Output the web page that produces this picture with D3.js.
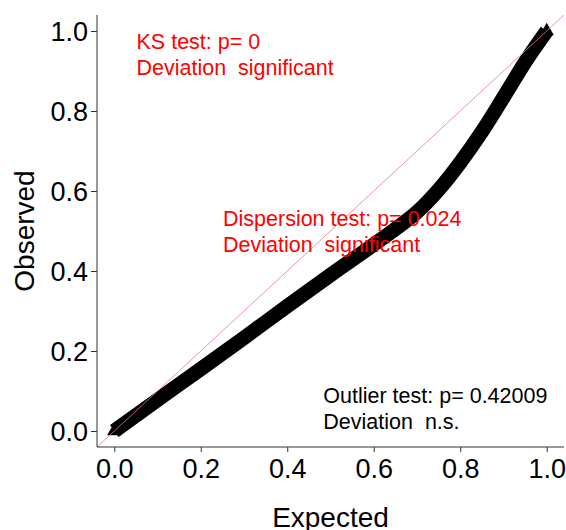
<!DOCTYPE html>
<html>
<head>
<meta charset="utf-8">
<script src="https://cdn.jsdelivr.net/npm/d3@7"></script>
<style>
  body { margin: 0; background: #fff; }
  text { font-family: "Liberation Sans", Arial, sans-serif; white-space: pre; }
</style>
</head>
<body>
<div id="qq"></div>
<script>
(function() {
    const width = 566
    const height = 530

    // qq points: expected vs observed
    const expected = [0, 0.1, 0.2, 0.3, 0.4, 0.5, 0.6, 0.65, 0.7, 0.75, 0.8, 0.85, 0.9, 0.95, 1]
    const observed = [0, 0.078, 0.155, 0.233, 0.312, 0.39, 0.466, 0.505, 0.547, 0.603, 0.671, 0.748, 0.834, 0.922, 1]
    const ticks = [0, 0.2, 0.4, 0.6, 0.8, 1.0]

    const ksText = ["KS test: p= 0", "Deviation  significant"]
    const dispText = ["Dispersion test: p= 0.024", "Deviation  significant"]
    const outText = ["Outlier test: p= 0.42009", "Deviation  n.s."]

    const points = expected.map((e, i) => ({x: e, y: observed[i]}))

    const svg = d3.select("#qq")
        .append("svg")
        .attr("width", width)
        .attr("height", height)

    // R style: 4% padding on each side of [0,1]
    const x = d3.scaleLinear().domain([-0.04, 1.04]).range([97, 564])
    const y = d3.scaleLinear().domain([-0.04, 1.04]).range([447, 15])

    svg.append("defs").append("clipPath").attr("id", "plotclip")
        .append("rect")
        .attr("x", x(-0.04)).attr("y", y(1.04))
        .attr("width", x(1.04) - x(-0.04))
        .attr("height", y(-0.04) - y(1.04))

    // the band of points
    const line = d3.line().x(d => x(d.x)).y(d => y(d.y)).curve(d3.curveMonotoneX)
    svg.append("path")
        .datum(points)
        .attr("d", line)
        .attr("fill", "none")
        .attr("stroke", "#000")
        .attr("stroke-width", 14.5)
        .attr("stroke-linejoin", "round")

    // triangle markers show at the two ends of the band
    const tri = d3.symbol().type(d3.symbolTriangle).size(90)
    svg.selectAll(".pt")
        .data([points[0], points[points.length - 1]])
        .join("path")
        .attr("class", "pt")
        .attr("d", tri)
        .attr("transform", d => "translate(" + x(d.x) + "," + y(d.y) + ")")
        .attr("fill", "#000")

    // 1:1 line
    svg.append("line")
        .attr("clip-path", "url(#plotclip)")
        .attr("x1", x(-0.04)).attr("y1", y(-0.04))
        .attr("x2", x(1.04)).attr("y2", y(1.04))
        .attr("stroke", "#f0788a")
        .attr("stroke-width", 0.8)

    // L shaped box
    svg.append("path")
        .attr("d", "M" + x(-0.04) + "," + y(1.04) + "V" + y(-0.04) + "H" + x(1.04))
        .attr("fill", "none")
        .attr("stroke", "#333")
        .attr("stroke-width", 1)

    const xAxis = svg.append("g")
        .attr("transform", "translate(0," + y(-0.04) + ")")
        .call(d3.axisBottom(x).tickValues(ticks).tickFormat(d3.format(".1f")).tickSize(5).tickPadding(7))
    const yAxis = svg.append("g")
        .attr("transform", "translate(" + x(-0.04) + ",0)")
        .call(d3.axisLeft(y).tickValues(ticks).tickFormat(d3.format(".1f")).tickSize(6).tickPadding(3))
    ;[xAxis, yAxis].forEach(a => {
        a.select(".domain").remove()
        a.selectAll("line").attr("stroke", "#333")
        a.selectAll("text")
            .attr("fill", "#000")
            .style("font-size", "27px")
            .style("font-family", "'Liberation Sans', Arial, sans-serif")
    })
    yAxis.selectAll("text").attr("dy", "0.35em")

    // axis titles
    svg.append("text")
        .attr("x", (x(-0.04) + x(1.04)) / 2)
        .attr("y", 526.5)
        .attr("text-anchor", "middle")
        .style("font-size", "28px")
        .text("Expected")
    svg.append("text")
        .attr("transform", "translate(33.5," + ((y(-0.04) + y(1.04)) / 2) + ") rotate(-90)")
        .attr("text-anchor", "middle")
        .style("font-size", "28px")
        .text("Observed")

    // test annotations
    function note(lines, left, base, color) {
        svg.append("g").selectAll("text")
            .data(lines)
            .join("text")
            .attr("x", left)
            .attr("y", (d, i) => base + i * 26)
            .attr("fill", color)
            .style("font-size", "21.5px")
            .text(d => d)
    }
    note(ksText, 136.5, 49.3, "red")
    note(dispText, 223, 225.7, "red")
    note(outText, 323.3, 403, "#000")
})();
</script>
</body>
</html>
